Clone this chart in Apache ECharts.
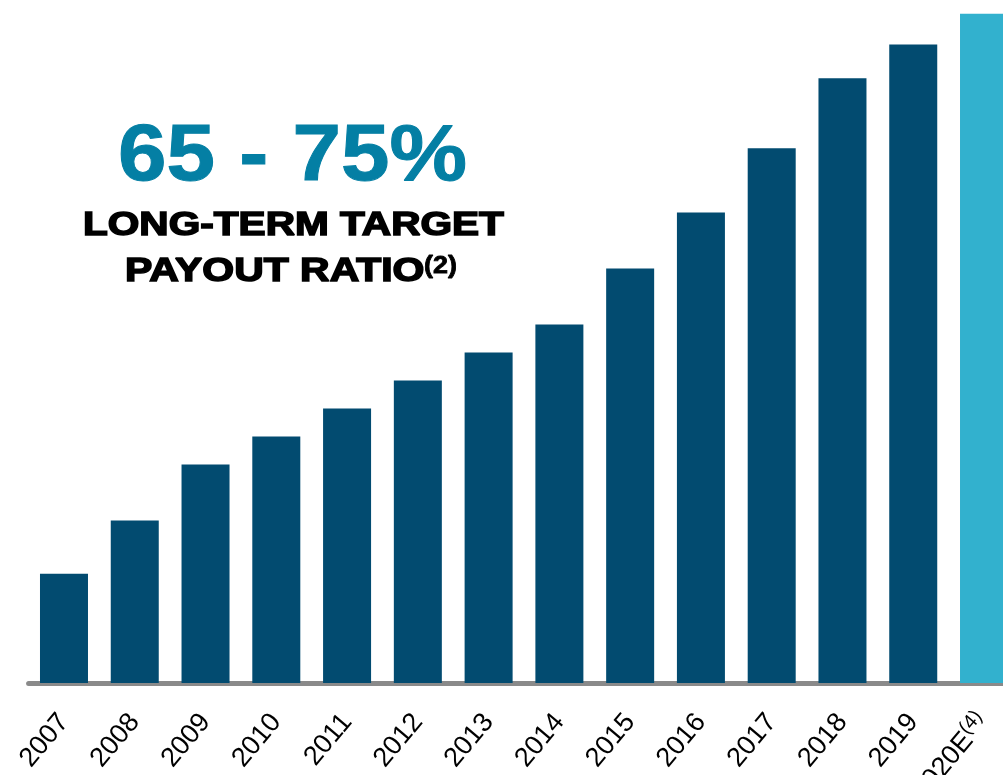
<!DOCTYPE html>
<html>
<head>
<meta charset="utf-8">
<title>Dividend growth</title>
<script src="https://cdn.jsdelivr.net/npm/echarts@6/dist/echarts.min.js"></script>
<style>
  html, body { margin: 0; padding: 0; background: #ffffff; }
  #chart { width: 1003px; height: 775px; }
</style>
</head>
<body>
<div id="chart"></div>
<script>
// Annual values, one per year
const years = ['2007', '2008', '2009', '2010', '2011', '2012', '2013',
               '2014', '2015', '2016', '2017', '2018', '2019', '2020E'];
const yearNotes = ['', '', '', '', '', '', '', '', '', '', '', '', '', '(4)'];
const values = [0.39, 0.58, 0.78, 0.88, 0.98, 1.08, 1.18,
                1.28, 1.48, 1.68, 1.91, 2.16, 2.28, 2.39];
// The last year is an estimate and is shown in the lighter colour
const estimated = [false, false, false, false, false, false, false,
                   false, false, false, false, false, false, true];

const headline = '65 - 75%';
const subLine1 = 'LONG-TERM TARGET';
const subLine2 = 'PAYOUT RATIO';
const subNote = '(2)';

const DARK = '#024b70';
const LIGHT = '#32b1ce';
const TEAL = '#047fa4';
const FONT = 'Liberation Sans, Arial, sans-serif';

const chart = echarts.init(document.getElementById('chart'), null, { renderer: 'canvas' });

const barData = values.map((v, i) => ({
  value: v,
  itemStyle: { color: estimated[i] ? LIGHT : DARK }
}));

chart.setOption({
  animation: false,
  backgroundColor: '#ffffff',
  grid: {
    left: 28.6,
    right: -16.4,
    top: 11,
    bottom: 92,
    containLabel: false,
    outerBoundsMode: 'none'
  },
  xAxis: {
    type: 'category',
    data: years,
    offset: 2.5,
    axisLine: { show: true, lineStyle: { color: '#8a8a8a', width: 5 } },
    axisTick: { show: false },
    axisLabel: {
      interval: 0,
      rotate: 50,
      margin: 32,
      fontFamily: FONT,
      fontSize: 27,
      color: '#000000',
      formatter: function (v, idx) {
        const note = yearNotes[idx];
        return note ? '{m|' + v + '}{s|' + note + '}' : v;
      },
      rich: {
        m: { fontFamily: FONT, fontSize: 27, color: '#000000' },
        s: { fontFamily: FONT, fontSize: 20, color: '#000000',
             verticalAlign: 'top', padding: [0, 0, 14, 0] }
      }
    },
    splitLine: { show: false }
  },
  yAxis: {
    type: 'value',
    min: 0,
    max: 2.4,
    show: false,
    splitLine: { show: false }
  },
  series: [{
    type: 'bar',
    data: barData,
    barWidth: 48,
    z: 3
  }],
  graphic: [
    {
      type: 'text',
      x: 118,
      y: 158,
      scaleX: 1.09,
      style: {
        text: headline,
        font: 'bold 80px "Liberation Sans", Arial, sans-serif',
        fill: TEAL,
        stroke: TEAL,
        lineWidth: 1,
        textAlign: 'left',
        textVerticalAlign: 'middle'
      }
    },
    {
      type: 'text',
      x: 83,
      y: 226,
      scaleX: 1.23,
      style: {
        text: subLine1,
        font: 'bold 33px "Liberation Sans", Arial, sans-serif',
        fill: '#000000',
        stroke: '#000000',
        lineWidth: 1.5,
        textAlign: 'left',
        textVerticalAlign: 'middle'
      }
    },
    {
      type: 'text',
      x: 125,
      y: 272,
      scaleX: 1.24,
      style: {
        text: subLine2,
        font: 'bold 33px "Liberation Sans", Arial, sans-serif',
        fill: '#000000',
        stroke: '#000000',
        lineWidth: 1.5,
        textAlign: 'left',
        textVerticalAlign: 'middle'
      }
    },
    {
      type: 'text',
      x: 424,
      y: 266,
      scaleX: 1.12,
      style: {
        text: subNote,
        font: 'bold 24px "Liberation Sans", Arial, sans-serif',
        fill: '#000000',
        stroke: '#000000',
        lineWidth: 0.8,
        textAlign: 'left',
        textVerticalAlign: 'middle'
      }
    }
  ]
});
</script>
</body>
</html>
